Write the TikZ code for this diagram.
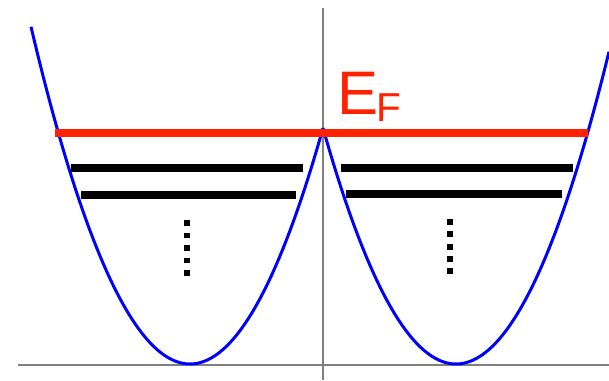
\documentclass[tikz,border=0pt]{standalone}
\usepackage{fontspec}
\setmainfont{Liberation Sans}
\usepackage{xcolor}
\definecolor{cBand}{HTML}{0000FF}
\definecolor{cFermi}{HTML}{FF2200}
\definecolor{cAxis}{HTML}{808080}
\usepackage{tikz}
\usetikzlibrary{positioning}

\begin{document}
\begin{tikzpicture}[
    x=0.02cm, y=-0.02cm,
    axis/.style={draw=cAxis, line width=0.6pt},
    band/.style={draw=cBand, line width=1.7pt, smooth, samples=80},
    fermi/.style={draw=cFermi, line width=4.4pt},
    level/.style={draw=black, line width=4.4pt},
    dotsq/.style={fill=black, inner sep=0pt, minimum size=3.4pt}
]
\useasboundingbox (0,0) rectangle (609,380);

% axes
\coordinate (xl) at (18,365);
\coordinate (xr) at (609,365);
\coordinate (yt) at (323,8);
\coordinate (yb) at (323,380);
\draw[axis] (xl) -- (xr);
\draw[axis] (yt) -- (yb);

% the two valleys
\draw[band] plot[domain=31:323] (\x, {364-236*((\x-190)/133)^2});
\draw[band] plot[domain=323:609] (\x, {364-236*((\x-456)/133)^2});

% Fermi level
\coordinate (fl) at (55,133);
\coordinate (fr) at (588,133);
\draw[fermi] (fl) -- (fr);
\node[anchor=base west, inner sep=0pt, text=cFermi,
      font=\fontsize{35}{40}\selectfont] (ef) at (337,114)
      {E\kern-1pt\raisebox{-4pt}{\fontsize{23}{23}\selectfont F}};

% quantised levels
\coordinate (a1) at (71,168);  \coordinate (b1) at (303,168);
\coordinate (a2) at (81,195);  \coordinate (b2) at (296,195);
\coordinate (c1) at (341,168); \coordinate (d1) at (573,168);
\coordinate (c2) at (346,194); \coordinate (d2) at (562,194);
\draw[level] (a1) -- (b1);
\draw[level] (a2) -- (b2);
\draw[level] (c1) -- (d1);
\draw[level] (c2) -- (d2);

% more levels below
\foreach \i in {0,...,4} {
  \node[dotsq] (ldot\i) at (187,{223+12.5*\i}) {};
  \node[dotsq] (rdot\i) at (450,{222+12.3*\i}) {};
}
\end{tikzpicture}
\end{document}
